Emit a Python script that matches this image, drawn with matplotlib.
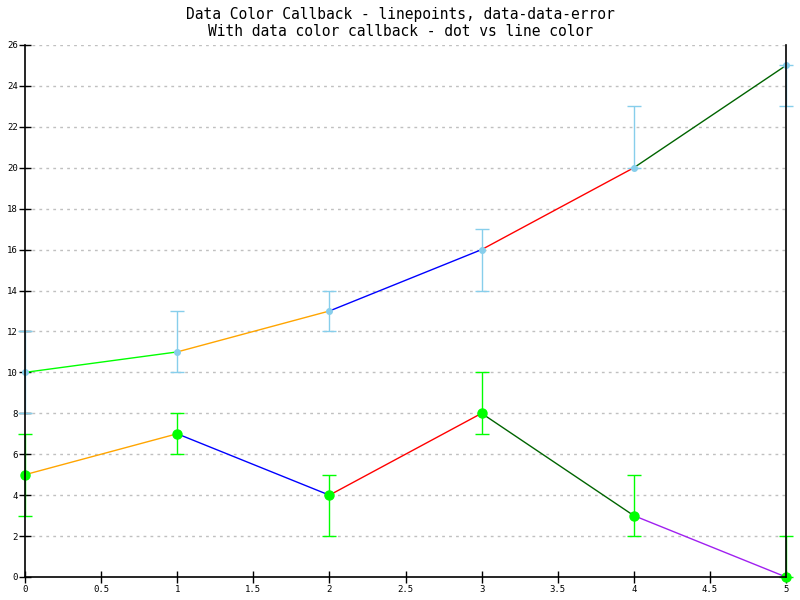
import matplotlib
matplotlib.use("Agg")
import matplotlib.pyplot as plt
import numpy as np

x = [0, 1, 2, 3, 4, 5]
top_y = [10, 11, 13, 16, 20, 25]
top_lo = [8, 10, 12, 14, 20, 23]
top_hi = [12, 13, 14, 17, 23, 25]
top_seg_colors = ["#00ff00", "orange", "blue", "red", "darkgreen"]

bot_y = [5, 7, 4, 8, 3, 0]
bot_lo = [3, 6, 2, 7, 2, 0]
bot_hi = [7, 8, 5, 10, 5, 2]
bot_seg_colors = ["orange", "blue", "red", "darkgreen", "#a020f0"]

yticks = list(range(0, 27, 2))
xticks = [0, 0.5, 1, 1.5, 2, 2.5, 3, 3.5, 4, 4.5, 5]
xtick_labels = ["0", "0.5", "1", "1.5", "2", "2.5", "3", "3.5", "4", "4.5", "5"]

plt.rcParams['font.family'] = ['DejaVu Sans Mono']
fig = plt.figure(figsize=(8, 6), dpi=100)
ax = fig.add_axes([25/800, 1-577/600, (786-25)/800, (577-45)/600])

ax.set_xlim(0, 5)
ax.set_ylim(0, 26)

for v in yticks[1:]:
    ax.axhline(v, color="#c0c0c0", lw=1, ls=(0, (2, 3)), zorder=0)

def draw(ys, lo, hi, segc, ecol, mcol, ms):
    for i in range(len(x) - 1):
        ax.plot(x[i:i+2], ys[i:i+2], color=segc[i], lw=1, zorder=2, clip_on=False)
    ax.errorbar(x, ys, yerr=[np.array(ys) - np.array(lo), np.array(hi) - np.array(ys)],
                fmt="none", ecolor=ecol, elinewidth=1, capsize=5, capthick=1, zorder=3, clip_on=False)
    ax.plot(x, ys, ls="none", marker="o", color=mcol, ms=ms, zorder=4, clip_on=False)

draw(top_y, top_lo, top_hi, top_seg_colors, "skyblue", "skyblue", 4)
draw(bot_y, bot_lo, bot_hi, bot_seg_colors, "#00ff00", "#00ff00", 6.5)

ax.spines['top'].set_visible(False)
for s in ['left', 'bottom', 'right']:
    ax.spines[s].set_color('black')
    ax.spines[s].set_linewidth(1.2)
    ax.spines[s].set_zorder(5)

ax.set_yticks(yticks)
ax.set_yticklabels([str(v) for v in yticks])
ax.set_xticks(xticks)
ax.set_xticklabels(xtick_labels)
ax.tick_params(axis='both', direction='inout', length=8, width=1, labelsize=6.5, colors='black')
ax.tick_params(axis='y', pad=1)
ax.tick_params(axis='x', pad=2)

fig.text(0.5, 1-14/600, "Data Color Callback - linepoints, data-data-error", ha='center', va='center', fontsize=10.5)
fig.text(0.5, 1-32/600, "With data color callback - dot vs line color", ha='center', va='center', fontsize=10.5)

fig.savefig("out.png", dpi=100)
